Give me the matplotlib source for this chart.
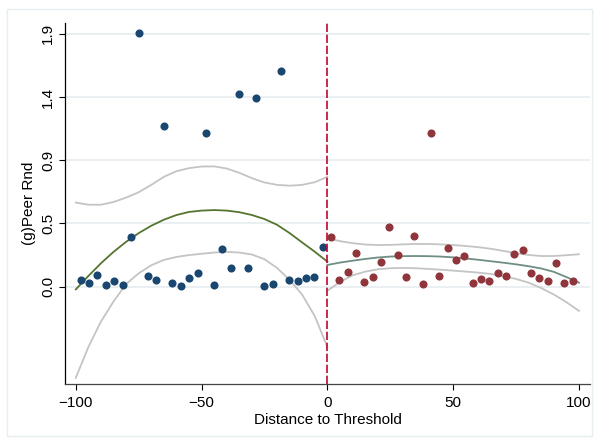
import numpy as np
import matplotlib.pyplot as plt
from matplotlib.patches import Rectangle

plt.rcParams['font.family'] = ['Liberation Sans', 'DejaVu Sans']

# Binned means, left of threshold
x_left = np.array([-97.9, -94.7, -91.4, -88.1, -84.8, -81.4, -78.1, -74.8, -71.5, -68.2,
                   -64.9, -61.6, -58.3, -54.9, -51.6, -48.3, -45.0, -41.7, -38.4, -35.1,
                   -31.7, -28.4, -25.1, -21.8, -18.5, -15.2, -11.8, -8.5, -5.2, -1.9])
y_left = np.array([0.05, 0.027, 0.085, 0.013, 0.04, 0.015, 0.368, 1.89, 0.08, 0.05,
                   1.20, 0.025, 0.003, 0.065, 0.105, 1.145, 0.01, 0.279, 0.142, 1.44,
                   0.14, 1.408, 0.008, 0.018, 1.607, 0.05, 0.045, 0.067, 0.075, 0.30])

# Binned means, right of threshold
x_right = np.array([1.4, 4.7, 8.0, 11.3, 14.6, 18.0, 21.3, 24.6, 27.9, 31.2,
                    34.5, 37.9, 41.2, 44.5, 47.8, 51.1, 54.4, 57.7, 61.0, 64.3,
                    67.7, 71.0, 74.3, 77.6, 80.9, 84.2, 87.6, 90.9, 94.2, 97.5])
y_right = np.array([0.368, 0.048, 0.11, 0.254, 0.037, 0.075, 0.187, 0.443, 0.237, 0.072,
                    0.381, 0.02, 1.145, 0.082, 0.286, 0.199, 0.229, 0.025, 0.055, 0.04,
                    0.105, 0.08, 0.244, 0.272, 0.10, 0.065, 0.045, 0.179, 0.025, 0.045])

# Fitted polynomial and confidence bands (every 5 units)
fx_left = np.arange(-100, 1, 5)
fit_left = np.array([-0.02, 0.08, 0.175, 0.26, 0.335, 0.40, 0.455, 0.50, 0.535, 0.558, 0.568,
                     0.572, 0.568, 0.556, 0.535, 0.505, 0.462, 0.40, 0.33, 0.261, 0.187])
hi_left = np.array([0.628, 0.612, 0.612, 0.632, 0.665, 0.705, 0.76, 0.82, 0.862, 0.885, 0.897,
                    0.898, 0.882, 0.85, 0.81, 0.778, 0.76, 0.754, 0.76, 0.78, 0.82])
lo_left = np.array([-0.68, -0.45, -0.26, -0.11, 0.02, 0.10, 0.16, 0.20, 0.222, 0.236, 0.246,
                    0.255, 0.26, 0.255, 0.24, 0.205, 0.14, 0.05, -0.06, -0.22, -0.45])

fx_right = np.arange(0, 101, 5)
fit_right = np.array([0.162, 0.18, 0.194, 0.207, 0.218, 0.225, 0.228, 0.229, 0.228, 0.225, 0.219,
                      0.211, 0.201, 0.19, 0.179, 0.167, 0.153, 0.136, 0.111, 0.072, 0.03])
hi_right = np.array([0.362, 0.34, 0.325, 0.315, 0.311, 0.312, 0.316, 0.319, 0.319, 0.316, 0.311,
                     0.304, 0.295, 0.283, 0.267, 0.25, 0.237, 0.229, 0.229, 0.235, 0.242])
lo_right = np.array([-0.03, 0.035, 0.085, 0.112, 0.13, 0.138, 0.14, 0.138, 0.133, 0.127, 0.12,
                     0.113, 0.105, 0.095, 0.078, 0.058, 0.03, -0.01, -0.058, -0.115, -0.18])

yticks = [0, 0.472, 0.944, 1.416, 1.888]
ytick_labels = ['0.0', '0.5', '0.9', '1.4', '1.9']
xticks = [-100, -50, 0, 50, 100]

fig = plt.figure(figsize=(5.99, 4.41), dpi=100)
fig.patches.append(Rectangle((0.012, 0.012), 0.976, 0.968, transform=fig.transFigure,
                             fill=False, edgecolor='#e6eef0', linewidth=1))
ax = fig.add_axes([0.1085, 0.1293, 0.8765, 0.8185])

ci_color = '#c4c4c4'
for fx, fy in [(fx_left, hi_left), (fx_left, lo_left), (fx_right, hi_right), (fx_right, lo_right)]:
    ax.plot(fx, fy, color=ci_color, lw=1.3, zorder=2, solid_joinstyle='round')
ax.plot(fx_left, fit_left, color='#55752f', lw=1.3, zorder=3, solid_joinstyle='round')
ax.plot(fx_right, fit_right, color='#6e8e84', lw=1.3, zorder=3, solid_joinstyle='round')

ax.scatter(x_left, y_left, s=34, color='#1a476f', zorder=4, linewidths=0)
ax.scatter(x_right, y_right, s=34, color='#90353b', zorder=4, linewidths=0)

ax.axvline(0, color='#c10534', lw=1.2, dashes=(5, 1.6), zorder=5)

ax.set_xlim(-104.3, 104.4)
ax.set_ylim(-0.726, 1.968)
ax.set_xticks(xticks)
ax.set_yticks(yticks)
ax.set_yticklabels(ytick_labels, rotation=90, va='center')
ax.grid(axis='y', color='#e6eef0', lw=1.2, zorder=0)
ax.set_axisbelow(True)

for s in ['top', 'right']:
    ax.spines[s].set_visible(False)
ax.spines['left'].set_color('black')
ax.spines['bottom'].set_color('#444444')
ax.spines['left'].set_linewidth(0.9)
ax.spines['bottom'].set_linewidth(0.9)
ax.tick_params(axis='both', labelsize=11, length=4, width=0.8, colors='black')
ax.tick_params(axis='x', pad=5)
ax.tick_params(axis='y', pad=3)

ax.set_xlabel('Distance to Threshold', fontsize=11, labelpad=2)
ax.set_ylabel('(g)Peer Rnd', fontsize=11, labelpad=4)

fig.savefig('out.png', dpi=100)
